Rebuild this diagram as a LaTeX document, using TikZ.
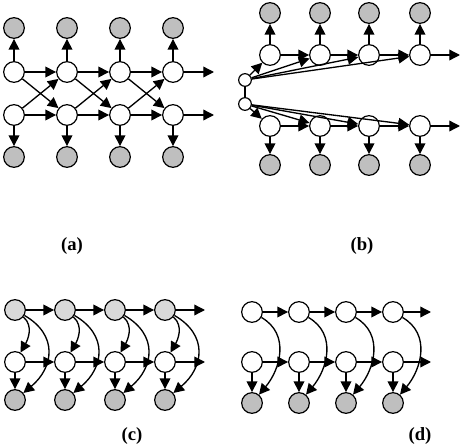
\documentclass[tikz,border=0pt]{standalone}
\usepackage{fontspec}
\setmainfont{Liberation Serif}
\usetikzlibrary{arrows.meta}

\definecolor{obsgrey}{gray}{0.75}
\definecolor{latgrey}{gray}{0.85}

\tikzset{
  hid/.style={circle, draw, fill=white, line width=0.9pt, minimum size=15.5pt, inner sep=0pt},
  obs/.style={hid, fill=obsgrey},
  lat/.style={hid, fill=latgrey},
  tiny/.style={hid, minimum size=9.5pt},
  edge/.style={->, line width=1pt},
  tag/.style={font=\bfseries\fontsize{14}{16}\selectfont},
}

\begin{document}
\begin{tikzpicture}[x=0.75pt, y=-0.75pt, >={Triangle[length=8pt,width=8pt]}]
  \useasboundingbox (0,0) rectangle (462,447);

  % (a) coupled chains with crossing links
  \foreach \i/\x in {1/14,2/67,3/120,4/173} {
    \node[obs] (ao\i) at (\x,28) {};
    \node[hid] (au\i) at (\x,72) {};
    \node[hid] (al\i) at (\x,115) {};
    \node[obs] (ab\i) at (\x,157) {};
    \draw[edge] (au\i) -- (ao\i);
    \draw[edge] (al\i) -- (ab\i);
  }
  \coordinate (aue) at (214,72);
  \coordinate (ale) at (214,115);
  \foreach \i/\j in {1/2,2/3,3/4} {
    \draw[edge] (au\i) -- (au\j);
    \draw[edge] (al\i) -- (al\j);
    \draw[edge] (au\i) -- (al\j);
    \draw[edge] (al\i) -- (au\j);
  }
  \draw[edge] (au4) -- (aue);
  \draw[edge] (al4) -- (ale);
  \node[tag] (la) at (72,246) {(a)};

  % (b) two chains fed from a shared pair
  \node[tiny] (bs1) at (245,80) {};
  \node[tiny] (bs2) at (245,104) {};
  \draw[line width=1pt] (bs1) -- (bs2);
  \foreach \i/\x in {1/270,2/320,3/369,4/420} {
    \node[obs] (bo\i) at (\x,13) {};
    \node[hid] (bu\i) at (\x,55) {};
    \node[hid] (bl\i) at (\x,126) {};
    \node[obs] (bb\i) at (\x,165) {};
    \draw[edge] (bu\i) -- (bo\i);
    \draw[edge] (bl\i) -- (bb\i);
    \draw[edge] (bs1) -- (bu\i);
    \draw[edge] (bs2) -- (bl\i);
  }
  \coordinate (bue) at (460,55);
  \coordinate (ble) at (460,126);
  \foreach \i/\j in {1/2,2/3,3/4} {
    \draw[edge] (bu\i) -- (bu\j);
    \draw[edge] (bl\i) -- (bl\j);
  }
  \draw[edge] (bu4) -- (bue);
  \draw[edge] (bl4) -- (ble);
  \node[tag] (lb) at (362,246) {(b)};

  % (c)
  \foreach \i/\x in {1/15,2/65,3/115,4/165} {
    \node[lat] (ct\i) at (\x,310) {};
    \node[hid] (cm\i) at (\x,362) {};
    \node[obs] (cb\i) at (\x,400) {};
    \draw[edge] (cm\i) -- (cb\i);
    \draw[edge] (ct\i) to[out=-40, in=60] (cm\i);
    \draw[edge] (ct\i) to[out=-30, in=40, looseness=1.3] (cb\i);
  }
  \coordinate (cte) at (205,310);
  \coordinate (cme) at (205,362);
  \foreach \i/\j in {1/2,2/3,3/4} {
    \draw[edge] (ct\i) -- (ct\j);
    \draw[edge] (cm\i) -- (cm\j);
  }
  \draw[edge] (ct4) -- (cte);
  \draw[edge] (cm4) -- (cme);
  \node[tag] (lc) at (132,436) {(c)};

  % (d)
  \foreach \i/\x in {1/252,2/299,3/346,4/393} {
    \node[hid] (dt\i) at (\x,312) {};
    \node[hid] (dm\i) at (\x,362) {};
    \node[obs] (db\i) at (\x,403) {};
    \draw[edge] (dm\i) -- (db\i);
    \draw[edge] (dt\i) to[out=-30, in=50, looseness=1.1] (db\i);
  }
  \coordinate (dte) at (431,312);
  \coordinate (dme) at (431,362);
  \foreach \i/\j in {1/2,2/3,3/4} {
    \draw[edge] (dt\i) -- (dt\j);
    \draw[edge] (dm\i) -- (dm\j);
  }
  \draw[edge] (dt4) -- (dte);
  \draw[edge] (dm4) -- (dme);
  \node[tag] (ld) at (420,436) {(d)};
\end{tikzpicture}
\end{document}
